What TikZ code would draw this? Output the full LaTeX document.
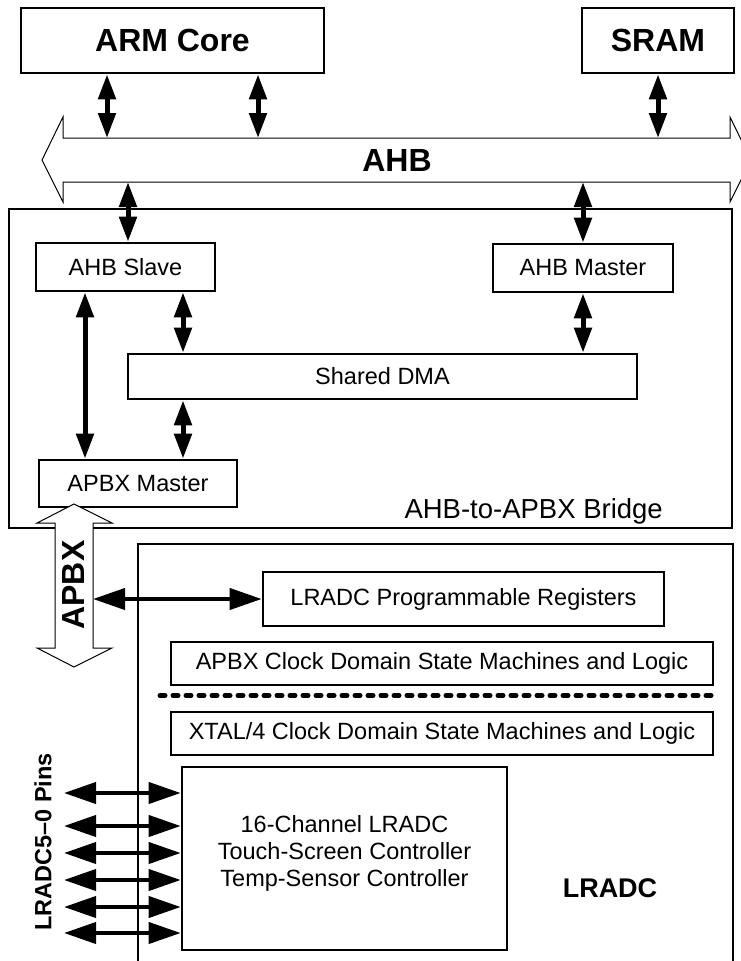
\documentclass[tikz,border=0pt]{standalone}
\usepackage{fontspec}
\setmainfont{Liberation Sans}
\usetikzlibrary{arrows.meta,positioning}
\tikzset{
  blk/.style={draw,line width=2.6pt,inner sep=0pt,font=\fontsize{23.5}{27}\selectfont},
  big/.style={font=\fontsize{32}{36}\selectfont\bfseries},
  bus/.style={draw,line width=1pt,fill=white,line join=miter},
  dar/.style={{Triangle[length=25pt,width=17pt]}-{Triangle[length=25pt,width=17pt]},line width=5pt},
  pin/.style={{Triangle[length=32pt,width=21pt]}-{Triangle[length=32pt,width=21pt]},line width=4pt}
}
\begin{document}
\begin{tikzpicture}[x=1pt,y=-1pt]
\useasboundingbox (0,0) rectangle (741,961);
\clip (0,0) rectangle (741,961);
% masters and bus
\node[blk,big,minimum width=303pt,minimum height=65pt] (arm) at (172.5,40.5) {ARM Core};
\node[blk,big,minimum width=152pt,minimum height=65pt] (sram) at (658,40.5) {SRAM};
\draw[bus] (63,138)--(730,138)--(730,117)--(751,160)--(730,202)--(730,182)--(63,182)--(63,202)--(42,160)--(63,117)--cycle;
\node[big] (ahb) at (397,160) {AHB};
\coordinate (ahbtop) at (0,138);
\coordinate (ahbbot) at (0,182);
\coordinate (c1) at (107,0);
\coordinate (c2) at (258,0);
\coordinate (c4) at (128,0);
\coordinate (c5) at (583,0);
\coordinate (c6) at (85,0);
\coordinate (c7) at (183,0);
\draw[dar] (c1 |- arm.south) -- (c1 |- ahbtop);
\draw[dar] (c2 |- arm.south) -- (c2 |- ahbtop);
\draw[dar] (sram.south) -- (sram.south |- ahbtop);
% bridge
\node[draw,line width=1.8pt,minimum width=723pt,minimum height=319pt] (bridge) at (370.5,368.5) {};
\node[font=\fontsize{27.5}{30}\selectfont,anchor=base east,inner sep=0pt] (brlbl) at (663,518) {AHB-to-APBX Bridge};
\node[blk,minimum width=179pt,minimum height=48pt] (slave) at (125.5,267) {AHB Slave};
\node[blk,minimum width=180pt,minimum height=48pt] (master) at (583,268) {AHB Master};
\node[blk,minimum width=509pt,minimum height=45pt] (dma) at (382.5,376.5) {Shared DMA};
\node[blk,minimum width=198pt,minimum height=47pt] (apbxm) at (138,483.5) {APBX Master};
\draw[dar] (c4 |- ahbbot) -- (c4 |- slave.north);
\draw[dar] (c5 |- ahbbot) -- (c5 |- master.north);
\draw[dar] (c6 |- slave.south) -- (c6 |- apbxm.north);
\draw[dar] (c7 |- slave.south) -- (c7 |- dma.north);
\draw[dar] (c7 |- dma.south) -- (c7 |- apbxm.north);
\draw[dar] (master.south) -- (master.south |- dma.north);
% LRADC block
\draw[line width=1.4pt] (138,980) -- (138,544) -- (733,544) -- (733,980);
\node[font=\fontsize{27}{30}\selectfont\bfseries] (lradclbl) at (610,888) {LRADC};
\node[blk,minimum width=401pt,minimum height=54pt] (regs) at (463.5,599) {LRADC Programmable Registers};
\node[blk,minimum width=542pt,minimum height=43pt] (clkapbx) at (442,663.5) {APBX Clock Domain State Machines and Logic};
\node[blk,minimum width=542pt,minimum height=43pt] (clkxtal) at (442,733.5) {XTAL/4 Clock Domain State Machines and Logic};
\draw[line width=5pt,line cap=round,dash pattern=on 5pt off 8pt] (160,695.5) -- (711,695.5);
\node[blk,minimum width=325pt,minimum height=183pt] (adc) at (344.5,858.5) {};
\node[align=center,font=\fontsize{23.5}{27}\selectfont] (adctxt) at ([yshift=5pt]adc.center) {16-Channel LRADC\\Touch-Screen Controller\\Temp-Sensor Controller};
% APBX bus
\draw[bus] (74,504)--(112,523)--(93,523)--(93,648)--(112,648)--(74,667)--(37,648)--(55,648)--(55,523)--(37,523)--cycle;
\node[big,rotate=90] (apbx) at (73,585) {APBX};
\coordinate (apbxr) at (93,599);
\draw[pin] (apbxr) -- (regs.west);
% pins
\node[font=\fontsize{23.5}{27}\selectfont\bfseries,rotate=90] (pinlbl) at (43,842) {LRADC5–0 Pins};
\foreach \i/\yy in {1/793,2/826,3/853,4/880,5/907,6/933}{
  \coordinate (p\i) at (64,\yy);
  \draw[pin] (p\i) -- (p\i -| adc.west);
}
\end{tikzpicture}
\end{document}
